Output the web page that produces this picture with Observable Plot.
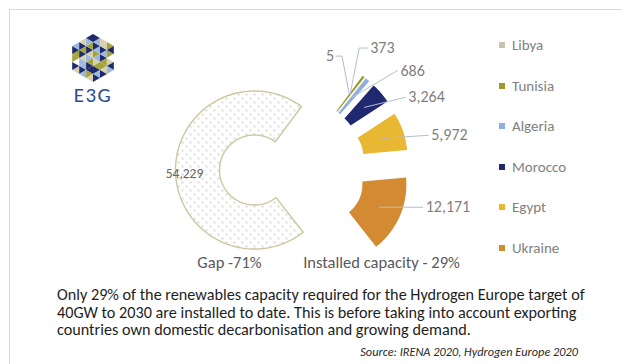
<!DOCTYPE html>
<html>
<head>
<meta charset="utf-8">
<script src="https://cdn.jsdelivr.net/npm/d3@7"></script>
<script src="https://cdn.jsdelivr.net/npm/@observablehq/plot@0.6"></script>
<style>
  body { margin: 0; background: #fff; }
  #wrap { position: relative; width: 622px; height: 364px; overflow: hidden; background: #fff;
          font-family: Calibri, Carlito, Lato, "Open Sans", sans-serif; }
  #chart { position: absolute; left: 0; top: 0; }
  #frame { position: absolute; left: 9px; top: 9px; width: 700px; height: 400px;
           border-top: 1px solid #d9d9d9; border-left: 1px solid #d9d9d9; pointer-events: none; }
  #logo { position: absolute; left: 0; top: 0; }
  .leg { position: absolute; left: 499px; display: flex; align-items: center; height: 18px;
         font-size: 15px; color: #808080; white-space: nowrap; }
  .leg i { display: inline-block; width: 6px; height: 6px; margin-right: 7px; }
  #caption { position: absolute; left: 57px; top: 286px; width: 565px; font-size: 16.2px;
             line-height: 17.5px; color: #1e1e1e; white-space: nowrap; }
  #source { position: absolute; right: 44px; top: 344px; font-size: 12.3px; line-height: 16px; font-style: italic; color: #2a2a2a; white-space: nowrap; }
</style>
</head>
<body>
<div id="wrap">
  <div id="chart"></div>
  <svg id="logo" width="200" height="110"></svg>
  <div id="legendBox"></div>
  <div id="caption"></div>
  <div id="source"></div>
  <div id="frame"></div>
</div>
<script>
// ---------------- data ----------------
const categories  = ["Libya", "Tunisia", "Algeria", "Morocco", "Egypt", "Ukraine"];
const capacityMW  = [5, 373, 686, 3264, 5972, 12171];
const gapName     = "Gap";
const gapMW       = 54229;
const sliceColors = ["#cbc3a8", "#9c9a2a", "#8db0dc", "#1f2870", "#e9b832", "#d38a32"];
const gapLabelText       = "Gap";
const installedLabelText = "Installed capacity";
const captionLines = [
  "Only 29% of the renewables capacity required for the Hydrogen Europe target of",
  "40GW to 2030 are installed to date. This is before taking into account exporting",
  "countries own domestic decarbonisation and growing demand."
];
const sourceText  = "Source: IRENA 2020, Hydrogen Europe 2020";

// ---------------- layout ----------------
const W = 622, H = 282;
const P = {x: 292, y: 169};          // pie centre
const R_OUT = 79, R_IN = 35, EXPLODE = 38, START = 36.5;
// leader layout relative to slice centroid: optional elbow, label point, anchor
const leaderLayout = [
  {elbow: [-7, -37], end: [-13, -37], anchor: "end"},
  {elbow: [9, -46],  end: [17, -46],  anchor: "start"},
  {end: [44, -26], anchor: "start"},
  {end: [41, -10], anchor: "start"},
  {end: [46, -3],  anchor: "start"},
  {end: [43, 0],   anchor: "start"}
];

const fmt = d3.format(",");
const total = d3.sum(capacityMW) + gapMW;
const installedTotal = d3.sum(capacityMW);
const polar = (cx, cy, r, deg) => {
  const a = deg * Math.PI / 180;
  return [cx + r * Math.sin(a), cy - r * Math.cos(a)];
};

// build slices
let acc = START;
const slices = categories.map((name, i) => {
  const span = capacityMW[i] / total * 360;
  const s = {name, value: capacityMW[i], color: sliceColors[i], a0: acc, a1: acc + span};
  acc += span;
  return s;
});
const gapSlice = {name: gapName, value: gapMW, a0: acc, a1: acc + gapMW / total * 360};
[...slices, gapSlice].forEach(s => {
  s.mid = (s.a0 + s.a1) / 2;
  [s.cx, s.cy] = polar(P.x, P.y, EXPLODE, s.mid);
  [s.lx, s.ly] = polar(s.cx, s.cy, (R_IN + R_OUT) / 2, s.mid);
});

function arcPoints(s, close) {
  const n = Math.max(2, Math.ceil((s.a1 - s.a0) / 1.5));
  const pts = [];
  for (let k = 0; k <= n; k++) {
    const a = s.a0 + (s.a1 - s.a0) * k / n;
    const [x, y] = polar(s.cx, s.cy, R_OUT, a);
    pts.push({name: s.name, color: s.color, x, y});
  }
  for (let k = n; k >= 0; k--) {
    const a = s.a0 + (s.a1 - s.a0) * k / n;
    const [x, y] = polar(s.cx, s.cy, R_IN, a);
    pts.push({name: s.name, color: s.color, x, y});
  }
  if (close) pts.push({...pts[0]});
  return pts;
}

const installedPts = slices.flatMap(s => arcPoints(s, false));
const gapPts = arcPoints(gapSlice, true);

const leaderPts = [];
const labelData = [];
slices.forEach((s, i) => {
  const L = leaderLayout[i];
  const ex = s.lx + L.end[0], ey = s.ly + L.end[1];
  leaderPts.push({name: s.name, x: s.lx, y: s.ly});
  if (L.elbow) leaderPts.push({name: s.name, x: s.lx + L.elbow[0], y: s.ly + L.elbow[1]});
  leaderPts.push({name: s.name, x: ex, y: ey});
  labelData.push({name: s.name, x: ex + (L.anchor === "end" ? -2 : 3), y: ey, text: fmt(s.value), anchor: L.anchor});
});

const [gapLX, gapLY] = polar(gapSlice.cx, gapSlice.cy, 70, gapSlice.mid);
const gapPct = Math.round(gapMW / total * 100);
const instPct = Math.round(installedTotal / total * 100);
const bottomLabels = [
  {x: 229, y: 262, text: `${gapLabelText} -${gapPct}%`},
  {x: 381, y: 262, text: `${installedLabelText} - ${instPct}%`}
];

const font = "Calibri, Carlito, Lato, 'Open Sans', sans-serif";
const chart = Plot.plot({
  width: W, height: H, margin: 0,
  style: {background: "transparent", fontFamily: font},
  x: {domain: [0, W], range: [0, W], axis: null},
  y: {domain: [0, H], range: [0, H], axis: null},
  color: {type: "identity"},
  marks: [
    Plot.line(gapPts, {x: "x", y: "y", fill: "url(#gapDots)", stroke: "#cfc59e", strokeWidth: 1.4}),
    Plot.line(installedPts, {x: "x", y: "y", z: "name", fill: "color", stroke: "none"}),
    Plot.line(leaderPts, {x: "x", y: "y", z: "name", stroke: "#b3bdd0", strokeWidth: 1}),
    Plot.text(labelData.filter(d => d.anchor === "start"), {x: "x", y: "y", text: "text", textAnchor: "start", fill: "#7f7f7f", fontSize: 16}),
    Plot.text(labelData.filter(d => d.anchor === "end"), {x: "x", y: "y", text: "text", textAnchor: "end", fill: "#7f7f7f", fontSize: 16}),
    Plot.text([{x: gapLX, y: gapLY + 3, text: fmt(gapMW)}], {x: "x", y: "y", text: "text", fill: "#666", fontSize: 13.5}),
    Plot.text(bottomLabels, {x: "x", y: "y", text: "text", fill: "#595959", fontSize: 16.5})
  ]
});

// dotted pattern for gap
const defs = d3.select(chart).insert("defs", ":first-child");
const pat = defs.append("pattern").attr("id", "gapDots").attr("patternUnits", "userSpaceOnUse")
  .attr("width", 8).attr("height", 8);
pat.append("rect").attr("width", 8).attr("height", 8).attr("fill", "#fff");
pat.append("circle").attr("cx", 2).attr("cy", 2).attr("r", 0.75).attr("fill", "#a0a0a0");
pat.append("circle").attr("cx", 6).attr("cy", 6).attr("r", 0.75).attr("fill", "#a0a0a0");
document.getElementById("chart").appendChild(chart);

// legend
const lb = document.getElementById("legendBox");
categories.forEach((c, i) => {
  const d = document.createElement("div");
  d.className = "leg";
  d.style.top = (45 + i * 40.6 - 9) + "px";
  d.innerHTML = `<i style="background:${sliceColors[i]}"></i>${c}`;
  lb.appendChild(d);
});

document.getElementById("caption").innerHTML = captionLines.join("<br>");
document.getElementById("source").textContent = sourceText;

// logo (decorative): hexagon of triangles
(function () {
  const svg = d3.select("#logo");
  const cx = 93, cy = 58, R = 24, n = 3;
  const V = d3.range(6).map(k => polar(cx, cy, R, k * 60));
  const pal = ["#1f2a6e", "#a5a33c", "#9cb8de", "#d8d0ae", "#ffffff", "#3c5fa6"];
  const seq = [1,2,0,3,1,0,2,3,0,  2,0,1,3,0,2,1,4,0,  3,1,0,2,0,1,3,0,2,
               1,0,2,0,3,0,1,2,3,  2,3,0,1,0,2,4,1,0,  3,0,1,2,0,1,0,3,2];
  let idx = 0;
  const lerp = (a, b, t) => [a[0] + (b[0] - a[0]) * t, a[1] + (b[1] - a[1]) * t];
  for (let k = 0; k < 6; k++) {
    const A = [cx, cy], B = V[k], C = V[(k + 1) % 6];
    const pt = (i, j) => {
      const p = lerp(A, B, i / n); return [p[0] + (C[0] - A[0]) * j / n, p[1] + (C[1] - A[1]) * j / n];
    };
    for (let i = 0; i < n; i++) for (let j = 0; j < n - i; j++) {
      const tris = [[pt(i, j), pt(i + 1, j), pt(i, j + 1)]];
      if (i + j < n - 1) tris.push([pt(i + 1, j), pt(i + 1, j + 1), pt(i, j + 1)]);
      tris.forEach(t => {
        svg.append("polygon").attr("points", t.map(p => p.join(",")).join(" "))
          .attr("fill", pal[seq[idx++ % seq.length]]).attr("stroke", "none");
      });
    }
  }
  svg.append("text").attr("x", cx).attr("y", 102).attr("text-anchor", "middle")
    .attr("font-family", font).attr("font-size", 21).attr("letter-spacing", 1.5)
    .attr("fill", "#2d4e8e").text("E3G");
})();
</script>
</body>
</html>
